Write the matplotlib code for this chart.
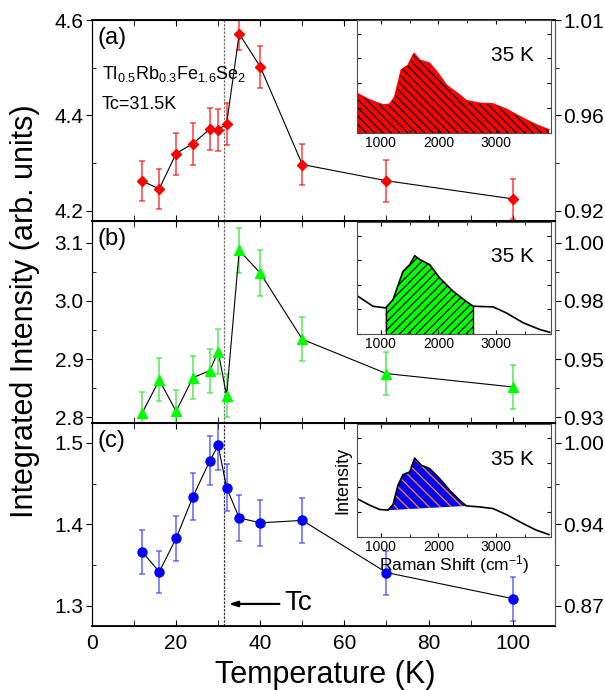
import numpy as np
import matplotlib
matplotlib.use('Agg')
import matplotlib.pyplot as plt
from matplotlib.ticker import MultipleLocator

plt.rcParams['font.family'] = ['Liberation Sans', 'DejaVu Sans']
plt.rcParams['mathtext.fontset'] = 'custom'
plt.rcParams['mathtext.rm'] = 'Liberation Sans'
plt.rcParams['mathtext.it'] = 'Liberation Sans:italic'
plt.rcParams['hatch.linewidth'] = 0.9

# temperature series (K)
temps = [12, 16, 20, 24, 28, 30, 32, 35, 40, 50, 70, 100]
tc = 31.5

# (a) red diamonds
int_a = [4.262, 4.246, 4.320, 4.341, 4.371, 4.370, 4.382, 4.571, 4.502, 4.297, 4.263, 4.225]
err_a = [0.042, 0.042, 0.044, 0.044, 0.044, 0.044, 0.044, 0.034, 0.044, 0.042, 0.044, 0.042]
# (b) green triangles
int_b = [2.808, 2.864, 2.810, 2.868, 2.880, 2.913, 2.837, 3.087, 3.048, 2.934, 2.875, 2.852]
err_b = [0.036, 0.037, 0.036, 0.037, 0.038, 0.038, 0.037, 0.039, 0.039, 0.038, 0.037, 0.038]
# (c) blue circles
int_c = [1.366, 1.342, 1.383, 1.434, 1.478, 1.497, 1.445, 1.408, 1.402, 1.405, 1.341, 1.309]
err_c = [0.027, 0.026, 0.028, 0.029, 0.030, 0.030, 0.029, 0.028, 0.028, 0.028, 0.027, 0.027]

# left / right tick labels of each panel
left_ticks_a = [4.2, 4.4, 4.6]
right_labels_a = ['0.92', '0.96', '1.01']
left_ticks_b = [2.8, 2.9, 3.0, 3.1]
right_labels_b = ['0.93', '0.95', '0.98', '1.00']
left_ticks_c = [1.3, 1.4, 1.5]
right_labels_c = ['0.87', '0.94', '1.00']

# inset spectra at 35 K (normalised intensity)
raman_a = [590, 810, 1040, 1156, 1242, 1358, 1473, 1577, 1675, 1848, 1992, 2136,
           2367, 2482, 2713, 2944, 3175, 3463, 3694, 3913]
spec_a = [0.353, 0.294, 0.250, 0.256, 0.320, 0.560, 0.600, 0.706, 0.647, 0.618, 0.530,
          0.426, 0.338, 0.288, 0.265, 0.259, 0.212, 0.132, 0.074, 0.030]

raman_b = [590, 867, 1087, 1214, 1387, 1503, 1590, 1676, 1850, 2022, 2253, 2484,
           2600, 2945, 3176, 3465, 3753, 3926]
spec_b = [0.343, 0.248, 0.233, 0.307, 0.560, 0.620, 0.700, 0.666, 0.620, 0.500, 0.382,
          0.290, 0.248, 0.242, 0.188, 0.100, 0.040, 0.015]
fill_b = (1087, 2600)

raman_c = [590, 810, 983, 1127, 1214, 1300, 1387, 1502, 1589, 1704, 1848, 2021, 2194,
           2367, 2482, 2713, 2944, 3175, 3463, 3694, 3913]
spec_c = [0.340, 0.281, 0.243, 0.237, 0.287, 0.459, 0.553, 0.577, 0.700, 0.636, 0.607,
          0.518, 0.414, 0.325, 0.275, 0.266, 0.251, 0.198, 0.118, 0.059, 0.020]
fill_c = (1127, 2482)

fig = plt.figure(figsize=(6.05, 6.9), dpi=100)

L, W = 0.152, 0.765
panel_pos = [0.680, 0.387, 0.0928]
panel_h = [0.291, 0.293, 0.2942]
ylims = [(4.179, 4.60), (2.79, 3.138), (1.2755, 1.5245)]
minors = [0.1, 0.05, 0.05]
series = [(int_a, err_a, 'D', 5.5, 'red', (1, 0, 0, 0.65)),
          (int_b, err_b, '^', 6.5, '#00ff00', (0.2, 0.9, 0.2, 0.7)),
          (int_c, err_c, 'o', 6.5, 'blue', (0.2, 0.2, 1, 0.65))]
ticks = [left_ticks_a, left_ticks_b, left_ticks_c]
rlabels = [right_labels_a, right_labels_b, right_labels_c]
names = ['(a)', '(b)', '(c)']

axes = []
for i in range(3):
    ax = fig.add_axes([L, panel_pos[i], W, panel_h[i]])
    y, e, m, ms, c, ec = series[i]
    ax.errorbar(temps, y, yerr=e, fmt='none', ecolor=ec, elinewidth=1.3,
                capsize=2.5, capthick=1.2, zorder=2)
    ax.plot(temps, y, '-', color='black', lw=0.8, zorder=3)
    ax.plot(temps, y, m, color=c, ms=ms, mec=c, zorder=4)
    ax.axvline(tc, color='0.2' if i == 2 else '0.45', ls=(0, (2, 1)), lw=0.9, zorder=1)
    ax.set_xlim(0, 110)
    ax.set_ylim(*ylims[i])
    ax.set_yticks(ticks[i])
    ax.yaxis.set_minor_locator(MultipleLocator(minors[i]))
    ax.xaxis.set_major_locator(MultipleLocator(20))
    ax.xaxis.set_minor_locator(MultipleLocator(10))
    ax.tick_params(axis='x', which='both', direction='in', top=True, length=4,
                   labelsize=15, pad=6)
    ax.tick_params(axis='y', which='major', direction='out', length=4, labelsize=15, pad=2)
    ax.tick_params(axis='y', which='minor', direction='in', length=3)
    if i < 2:
        ax.tick_params(axis='x', labelbottom=False)
    ax.yaxis.set_major_formatter(matplotlib.ticker.FormatStrFormatter('%.1f'))
    for s in ['left', 'right']:
        ax.spines[s].set_color('0.35')
    for s in ['top', 'bottom']:
        ax.spines[s].set_linewidth(1.3)
    ax.text(0.013, 0.965, names[i], transform=ax.transAxes, fontsize=17, va='top')

    tw = ax.twinx()
    tw.set_ylim(*ylims[i])
    tw.set_yticks(ticks[i])
    tw.set_yticklabels(rlabels[i])
    tw.yaxis.set_minor_locator(MultipleLocator(minors[i]))
    tw.tick_params(axis='y', which='major', direction='out', length=4, labelsize=15, pad=2)
    tw.tick_params(axis='y', which='minor', direction='out', length=3)
    tw.spines['right'].set_color('0.35')
    axes.append(ax)

ax_a, ax_b, ax_c = axes
ax_a.text(0.021, 0.705, r'Tl$_{0.5}$Rb$_{0.3}$Fe$_{1.6}$Se$_{2}$', transform=ax_a.transAxes,
          fontsize=13, va='baseline')
ax_a.text(0.021, 0.556, 'Tc=31.5K', transform=ax_a.transAxes, fontsize=13, va='baseline')

ax_c.annotate('', xy=(31.8, 1.3025), xytext=(45.2, 1.3025),
              arrowprops=dict(arrowstyle='-|>,head_length=0.5,head_width=0.16',
                              color='black', lw=1.6))
ax_c.text(45.8, 1.3035, 'Tc', fontsize=20, va='center', ha='left')

fig.text(0.0405, 0.549, 'Integrated Intensity (arb. units)', rotation=90,
         fontsize=22, ha='center', va='center')
fig.text(0.537, 0.022, 'Temperature (K)', fontsize=22, ha='center', va='center')

# insets
IL, IW = 0.590, 0.321
ins_pos = [(0.807, 0.164), (0.516, 0.162), (0.222, 0.163)]
inset_axes = []
for i in range(3):
    b, h = ins_pos[i]
    ia = fig.add_axes([IL, b, IW, h])
    ia.set_xlim(590, 3950)
    ia.set_ylim(0, 1)
    ia.xaxis.set_major_locator(MultipleLocator(1000))
    ia.xaxis.set_minor_locator(MultipleLocator(500))
    ia.yaxis.set_major_locator(MultipleLocator(0.22))
    ia.set_yticklabels([])
    ia.tick_params(which='both', direction='in', top=True, right=True, length=3,
                   labelsize=10, pad=2)
    ia.tick_params(axis='x', which='minor', length=2)
    for s in ia.spines.values():
        s.set_color('0.3')
    ia.text(0.80, 0.69, '35 K', transform=ia.transAxes, fontsize=15,
            ha='center', va='center')
    inset_axes.append(ia)

ia_a, ia_b, ia_c = inset_axes
ia_a.fill_between(raman_a, spec_a, 0, facecolor='red', edgecolor='black',
                  hatch='\\\\\\\\', lw=0)
ia_a.plot(raman_a, spec_a, color='red', lw=1)

rb = np.array(raman_b)
sb = np.array(spec_b)
mb = (rb >= fill_b[0]) & (rb <= fill_b[1])
ia_b.fill_between(rb[mb], sb[mb], 0, facecolor='#00ff00', edgecolor='black',
                  hatch='////', lw=0)
ia_b.plot([fill_b[0], fill_b[0]], [0, sb[rb == fill_b[0]][0]], color='black', lw=1)
ia_b.plot([fill_b[1], fill_b[1]], [0, sb[rb == fill_b[1]][0]], color='black', lw=1)
ia_b.plot(rb, sb, color='black', lw=1.2)

rc = np.array(raman_c)
sc = np.array(spec_c)
mc = (rc >= fill_c[0]) & (rc <= fill_c[1])
base = np.interp(rc[mc], [fill_c[0], fill_c[1]],
                 [sc[rc == fill_c[0]][0], sc[rc == fill_c[1]][0]])
ia_c.fill_between(rc[mc], sc[mc], base, facecolor='blue', edgecolor='#ff8c00',
                  hatch='\\\\\\', lw=0)
ia_c.plot(rc, sc, color='black', lw=1.2)
ia_c.set_ylabel('Intensity', fontsize=13, labelpad=2)
ia_c.set_xlabel('Raman Shift (cm$^{-1}$)', fontsize=12.5, labelpad=0)

fig.savefig('out.png', dpi=100)
